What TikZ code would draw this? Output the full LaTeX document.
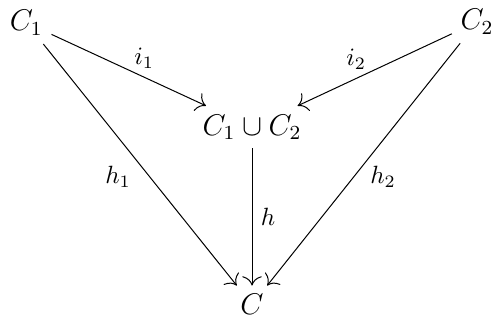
\documentclass[tikz,border=0pt]{standalone}
\usetikzlibrary{arrows.meta}
\begin{document}
\begin{tikzpicture}[x=1cm,y=1cm, >={To[scale=1.5]}]
\useasboundingbox (0,0) rectangle (6.93,-4.5);
\node (c1) at (0.37,-0.32) {\large $C_1$};
\node (c2) at (6.72,-0.31) {\large $C_2$};
\node (cu) at (3.55,-1.79) {\large $C_1\cup C_2$};
\node (c) at (3.55,-4.29) {\large $C$};
\draw[->] (c1) -- node[pos=0.6, above] {$i_1$} (cu);
\draw[->] (c2) -- node[pos=0.62, above] {$i_2$} (cu);
\draw[->] (c1) -- node[pos=0.55, left=4pt] {$h_1$} (c);
\draw[->] (cu) -- node[right] {$h$} (c);
\draw[->] (c2) -- node[pos=0.55, right=3pt] {$h_2$} (c);
\end{tikzpicture}
\end{document}
